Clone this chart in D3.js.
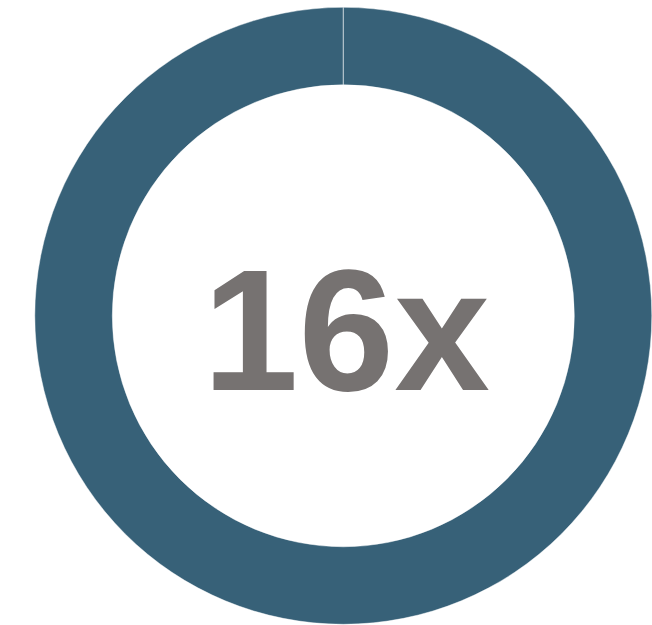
<!DOCTYPE html>
<html>
<head>
<meta charset="utf-8">
<script src="https://cdn.jsdelivr.net/npm/d3@7"></script>
<style>
  html, body { margin: 0; padding: 0; background: #fff; }
  svg { display: block; }
</style>
</head>
<body>
<svg id="chart"></svg>
<script>
// share shown as a ring, the remainder is empty
const labels = ['16x', 'rest'];
const values = [100, 0];
const centerLabel = '16x';

const width = 652;
const height = 625;
const cx = 343.3, cy = 315.8;
const outerR = 308.5, innerR = 231;

const svg = d3.select('#chart')
  .attr('width', width)
  .attr('height', height);

const g = svg.append('g')
  .attr('transform', `translate(${cx},${cy})`);

const pie = d3.pie().sort(null).value(d => d);
const arc = d3.arc().innerRadius(innerR).outerRadius(outerR);

const color = d3.scaleOrdinal().domain(labels).range(['#376178', '#376178']);

g.selectAll('path.slice')
  .data(pie(values))
  .enter()
  .append('path')
  .attr('class', 'slice')
  .attr('d', arc)
  .attr('fill', (d, i) => color(labels[i]))
  .attr('stroke', '#ffffff')
  .attr('stroke-opacity', 0.45)
  .attr('stroke-width', 1);

g.append('text')
  .attr('x', 3)
  .attr('y', 74)
  .attr('text-anchor', 'middle')
  .style('font-family', '"Liberation Sans", Arial, Helvetica, sans-serif')
  .style('font-weight', 'bold')
  .style('font-size', '172px')
  .style('fill', '#767271')
  .text(centerLabel);
</script>
</body>
</html>
